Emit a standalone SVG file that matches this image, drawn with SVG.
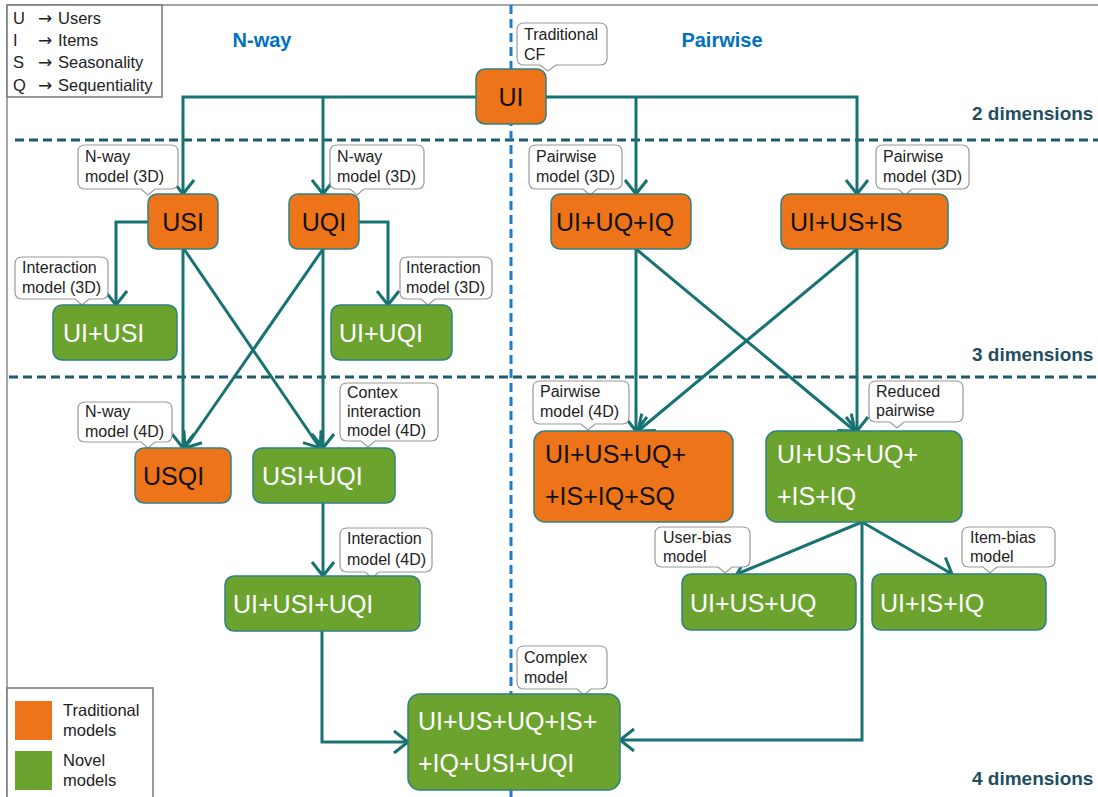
<svg xmlns="http://www.w3.org/2000/svg" width="1098" height="797" viewBox="0 0 1098 797">
<style>
text{font-family:"Liberation Sans",Arial,sans-serif}
.frame{fill:none;stroke:#8a8a8a;stroke-width:1.5}
.hd{fill:none;stroke:#1f5a6e;stroke-width:3;stroke-dasharray:9,5}
.vd{fill:none;stroke:#1e7bd0;stroke-width:3;stroke-dasharray:9,5}
.or{fill:#ed7419;stroke:#2e8181;stroke-width:1.5}
.gr{fill:#6ba32e;stroke:#2e8181;stroke-width:1.5}
.tb{font-size:25px;fill:#111}
.tw{font-size:25px;fill:#fff}
.co{fill:#fff;stroke:#9a9a9a;stroke-width:1.2}
.ct{font-size:16px;fill:#222}
.dim{font-size:19px;font-weight:bold;fill:#1f4e61}
.hdr{font-size:20px;font-weight:bold;fill:#0070c0}
.lg{font-size:16.5px;fill:#222}
.ar{font-family:"DejaVu Sans",sans-serif;font-size:17px;fill:#222}
.cn{fill:none;stroke:#187272;stroke-width:3;marker-end:url(#ah)}
</style>
<defs>
<marker id="ah" markerUnits="userSpaceOnUse" markerWidth="22" markerHeight="26" refX="16" refY="12" orient="auto" viewBox="0 0 22 26">
<path d="M2,1 L16,12 L2,23" fill="none" stroke="#187272" stroke-width="3"/>
</marker>
</defs>
<rect width="1098" height="797" fill="#fff"/>
<g id="frame">
<line class="frame" x1="7" y1="5" x2="1098" y2="5"/>
<line class="frame" x1="7" y1="5" x2="7" y2="797"/>
<line class="hd" x1="15" y1="140" x2="1098" y2="140"/>
<line class="hd" x1="9" y1="377" x2="1098" y2="377"/>
<line class="vd" x1="511" y1="5" x2="511" y2="797"/>
<text class="hdr" x="262" y="47" text-anchor="middle">N-way</text>
<text class="hdr" x="722" y="47" text-anchor="middle">Pairwise</text>
<text class="dim" x="972" y="120">2 dimensions</text>
<text class="dim" x="972" y="361">3 dimensions</text>
<text class="dim" x="972" y="785">4 dimensions</text>
</g>
<g id="legend-top">
<rect x="7" y="5" width="155" height="92" fill="#fff" stroke="#777" stroke-width="1.5"/>
<text class="lg" x="13" y="24">U</text><text class="ar" x="38" y="24">→</text><text class="lg" x="58" y="24">Users</text>
<text class="lg" x="13" y="46">I</text><text class="ar" x="38" y="46">→</text><text class="lg" x="58" y="46">Items</text>
<text class="lg" x="13" y="68">S</text><text class="ar" x="38" y="68">→</text><text class="lg" x="58" y="68">Seasonality</text>
<text class="lg" x="13" y="91">Q</text><text class="ar" x="38" y="91">→</text><text class="lg" x="58" y="91">Sequentiality</text>
</g>
<g id="legend-bottom">
<rect x="7" y="688" width="146" height="112" fill="#fff" stroke="#777" stroke-width="1.5"/>
<rect x="15" y="701" width="37" height="39" fill="#ed7419"/>
<rect x="15" y="751" width="37" height="39" fill="#6ba32e"/>
<text class="lg" x="63" y="716">Traditional</text>
<text class="lg" x="63" y="736">models</text>
<text class="lg" x="63" y="766">Novel</text>
<text class="lg" x="63" y="786">models</text>
</g>
<g id="connectors">
<path class="cn" d="M476,97 H183 V194"/>
<path class="cn" d="M323,97 V194"/>
<path class="cn" d="M546,97 H857 V194"/>
<path class="cn" d="M636,97 V194"/>
<path class="cn" d="M148,222 H116 V305"/>
<path class="cn" d="M359,222 H388 V305"/>
<path class="cn" d="M183,249 V448"/>
<path class="cn" d="M323,249 L185,448"/>
<path class="cn" d="M323,249 V448"/>
<path class="cn" d="M184,249 L320,448"/>
<path class="cn" d="M323,503 V576"/>
<path class="cn" d="M322,631 V742 H408"/>
<path class="cn" d="M636,249 V431"/>
<path class="cn" d="M636,249 L855,431"/>
<path class="cn" d="M857,249 V431"/>
<path class="cn" d="M857,249 L638,431"/>
<path class="cn" d="M862,522 L737,574"/>
<path class="cn" d="M862,522 L952,574"/>
<path class="cn" d="M862,522 V740 H620"/>
</g>
<g id="callouts">
<path class="co" d="M524,23 H600 Q607,23 607,30 V58 Q607,65 600,65 H556 L548,71 L540,65 H524 Q517,65 517,58 V30 Q517,23 524,23 Z"/>
<text class="ct" x="524" y="40">Traditional</text><text class="ct" x="524" y="60">CF</text>
<path class="co" d="M85,145 H171 Q178,145 178,152 V182 Q178,189 171,189 H155 L148,195 L141,189 H85 Q78,189 78,182 V152 Q78,145 85,145 Z"/>
<text class="ct" x="85" y="162">N-way</text><text class="ct" x="85" y="182">model (3D)</text>
<path class="co" d="M337,145 H417 Q424,145 424,152 V182 Q424,189 417,189 H364 L357,195 L350,189 H337 Q330,189 330,182 V152 Q330,145 337,145 Z"/>
<text class="ct" x="337" y="162">N-way</text><text class="ct" x="337" y="182">model (3D)</text>
<path class="co" d="M22,257 H101 Q108,257 108,264 V292 Q108,299 101,299 H89 L82,305 L75,299 H22 Q15,299 15,292 V264 Q15,257 22,257 Z"/>
<text class="ct" x="22" y="273">Interaction</text><text class="ct" x="22" y="293">model (3D)</text>
<path class="co" d="M407,257 H485 Q492,257 492,264 V292 Q492,299 485,299 H435 L428,305 L421,299 H407 Q400,299 400,292 V264 Q400,257 407,257 Z"/>
<text class="ct" x="406" y="273">Interaction</text><text class="ct" x="406" y="293">model (3D)</text>
<path class="co" d="M536,145 H615 Q622,145 622,152 V182 Q622,189 615,189 H597 L590,195 L583,189 H536 Q529,189 529,182 V152 Q529,145 536,145 Z"/>
<text class="ct" x="536" y="162">Pairwise</text><text class="ct" x="536" y="182">model (3D)</text>
<path class="co" d="M883,145 H962 Q969,145 969,152 V182 Q969,189 962,189 H912 L905,195 L898,189 H883 Q876,189 876,182 V152 Q876,145 883,145 Z"/>
<text class="ct" x="883" y="162">Pairwise</text><text class="ct" x="883" y="182">model (3D)</text>
<path class="co" d="M85,402 H165 Q172,402 172,409 V435 Q172,442 165,442 H155 L148,448 L141,442 H85 Q78,442 78,435 V409 Q78,402 85,402 Z"/>
<text class="ct" x="85" y="417">N-way</text><text class="ct" x="85" y="437">model (4D)</text>
<path class="co" d="M347,383 H431 Q438,383 438,390 V434 Q438,441 431,441 H375 L368,447 L361,441 H347 Q340,441 340,434 V390 Q340,383 347,383 Z"/>
<text class="ct" x="347" y="398">Contex</text><text class="ct" x="347" y="417">interaction</text><text class="ct" x="347" y="436">model (4D)</text>
<path class="co" d="M347,528 H425 Q432,528 432,535 V565 Q432,572 425,572 H379 L372,578 L365,572 H347 Q340,572 340,565 V535 Q340,528 347,528 Z"/>
<text class="ct" x="347" y="544">Interaction</text><text class="ct" x="347" y="565">model (4D)</text>
<path class="co" d="M540,381 H622 Q629,381 629,388 V417 Q629,424 622,424 H595 L588,430 L581,424 H540 Q533,424 533,417 V388 Q533,381 540,381 Z"/>
<text class="ct" x="540" y="397">Pairwise</text><text class="ct" x="540" y="417">model (4D)</text>
<path class="co" d="M876,381 H956 Q963,381 963,388 V415 Q963,422 956,422 H904 L897,428 L890,422 H876 Q869,422 869,415 V388 Q869,381 876,381 Z"/>
<text class="ct" x="876" y="397">Reduced</text><text class="ct" x="876" y="416">pairwise</text>
<path class="co" d="M662,527 H743 Q750,527 750,534 V560 Q750,567 743,567 H732 L725,573 L718,567 H662 Q655,567 655,560 V534 Q655,527 662,527 Z"/>
<text class="ct" x="663" y="543">User-bias</text><text class="ct" x="663" y="562">model</text>
<path class="co" d="M969,527 H1048 Q1055,527 1055,534 V560 Q1055,567 1048,567 H997 L990,573 L983,567 H969 Q962,567 962,560 V534 Q962,527 969,527 Z"/>
<text class="ct" x="970" y="543">Item-bias</text><text class="ct" x="970" y="562">model</text>
<path class="co" d="M524,646 H600 Q607,646 607,653 V682 Q607,689 600,689 H591 L584,695 L577,689 H524 Q517,689 517,682 V653 Q517,646 524,646 Z"/>
<text class="ct" x="524" y="663">Complex</text><text class="ct" x="524" y="683">model</text>
</g>
<g id="n-UI"><rect class="or" x="476" y="69" width="70" height="55" rx="9"/><text class="tb" x="511" y="106" text-anchor="middle">UI</text></g>
<g id="n-USI"><rect class="or" x="148" y="194" width="70" height="55" rx="9"/><text class="tb" x="183" y="231" text-anchor="middle">USI</text></g>
<g id="n-UQI"><rect class="or" x="289" y="194" width="70" height="55" rx="9"/><text class="tb" x="324" y="231" text-anchor="middle">UQI</text></g>
<g id="n-UIUQIQ"><rect class="or" x="551" y="194" width="140" height="55" rx="9"/><text class="tb" x="556" y="231">UI+UQ+IQ</text></g>
<g id="n-UIUSIS"><rect class="or" x="781" y="194" width="167" height="55" rx="9"/><text class="tb" x="790" y="231">UI+US+IS</text></g>
<g id="n-UIUSI"><rect class="gr" x="53" y="305" width="124" height="55" rx="9"/><text class="tw" x="63" y="342">UI+USI</text></g>
<g id="n-UIUQI"><rect class="gr" x="331" y="305" width="121" height="55" rx="9"/><text class="tw" x="339" y="342">UI+UQI</text></g>
<g id="n-USQI"><rect class="or" x="135" y="448" width="96" height="55" rx="9"/><text class="tb" x="143" y="485">USQI</text></g>
<g id="n-USIUQI"><rect class="gr" x="253" y="448" width="142" height="55" rx="9"/><text class="tw" x="262" y="485">USI+UQI</text></g>
<g id="n-pair4D"><rect class="or" x="534" y="431" width="199" height="91" rx="11"/><text class="tb" x="545" y="463">UI+US+UQ+</text><text class="tb" x="545" y="505">+IS+IQ+SQ</text></g>
<g id="n-reduced"><rect class="gr" x="766" y="431" width="196" height="91" rx="11"/><text class="tw" x="777" y="463">UI+US+UQ+</text><text class="tw" x="777" y="505">+IS+IQ</text></g>
<g id="n-UIUSIUQI"><rect class="gr" x="225" y="576" width="195" height="55" rx="9"/><text class="tw" x="233" y="613">UI+USI+UQI</text></g>
<g id="n-UIUSUQ"><rect class="gr" x="682" y="574" width="174" height="56" rx="9"/><text class="tw" x="690" y="612">UI+US+UQ</text></g>
<g id="n-UIISIQ"><rect class="gr" x="872" y="574" width="174" height="56" rx="9"/><text class="tw" x="880" y="612">UI+IS+IQ</text></g>
<g id="n-complex"><rect class="gr" x="408" y="694" width="212" height="96" rx="12"/><text class="tw" x="418" y="730">UI+US+UQ+IS+</text><text class="tw" x="418" y="772">+IQ+USI+UQI</text></g>
</svg>
